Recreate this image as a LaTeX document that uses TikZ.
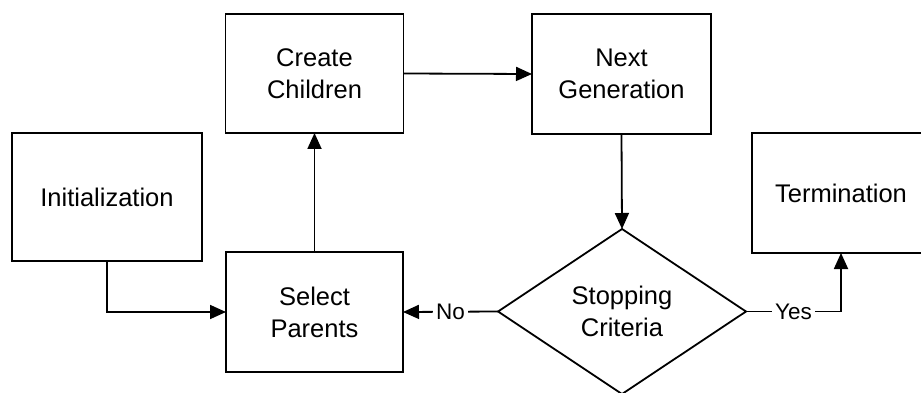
\documentclass[tikz,border=0pt]{standalone}
\usepackage{fontspec}
\setmainfont{Liberation Sans}
\usetikzlibrary{arrows.meta,shapes.geometric}
\begin{document}
\begin{tikzpicture}[x=1pt,y=-1pt,
  every node/.style={font=\fontsize{25.5}{32}\selectfont},
  box/.style={draw,line width=1.8pt,align=center,inner sep=0pt,outer sep=0pt},
  dec/.style={draw,diamond,line width=1.8pt,align=center,inner sep=0pt,outer sep=0pt,aspect=1.5,minimum width=248pt,minimum height=165pt},
  conn/.style={line width=1.8pt,-{Triangle[length=16pt,width=14pt]}},
  lbl/.style={fill=white,inner sep=3pt,font=\fontsize{22.5}{26}\selectfont}]
\useasboundingbox (0,0) rectangle (921,393);
\node[box,minimum width=190pt,minimum height=128pt] (init) at (107,197) {Initialization};
\node[box,minimum width=178pt,minimum height=119pt] (create) at (314.5,73.5) {Create\\Children};
\node[box,minimum width=179pt,minimum height=120pt] (next) at (621.5,74) {Next\\Generation};
\node[box,minimum width=177pt,minimum height=120pt] (select) at (314.5,312) {Select\\Parents};
\node[dec] (stop) at (622,311.5) {Stopping\\Criteria};
\node[box,minimum width=178pt,minimum height=120pt] (term) at (841,193) {Termination};
\draw[conn] (init.south) |- (select.west);
\draw[conn] (select.north) -- (create.south);
\draw[conn] (create.east) -- (next.west);
\draw[conn] (next.south) -- (stop.north);
\draw[conn] (stop.west) -- node[lbl] {No} (select.east);
\draw[conn] (stop.east) -| node[lbl,pos=0.25] {Yes} (term.south);
\end{tikzpicture}
\end{document}
